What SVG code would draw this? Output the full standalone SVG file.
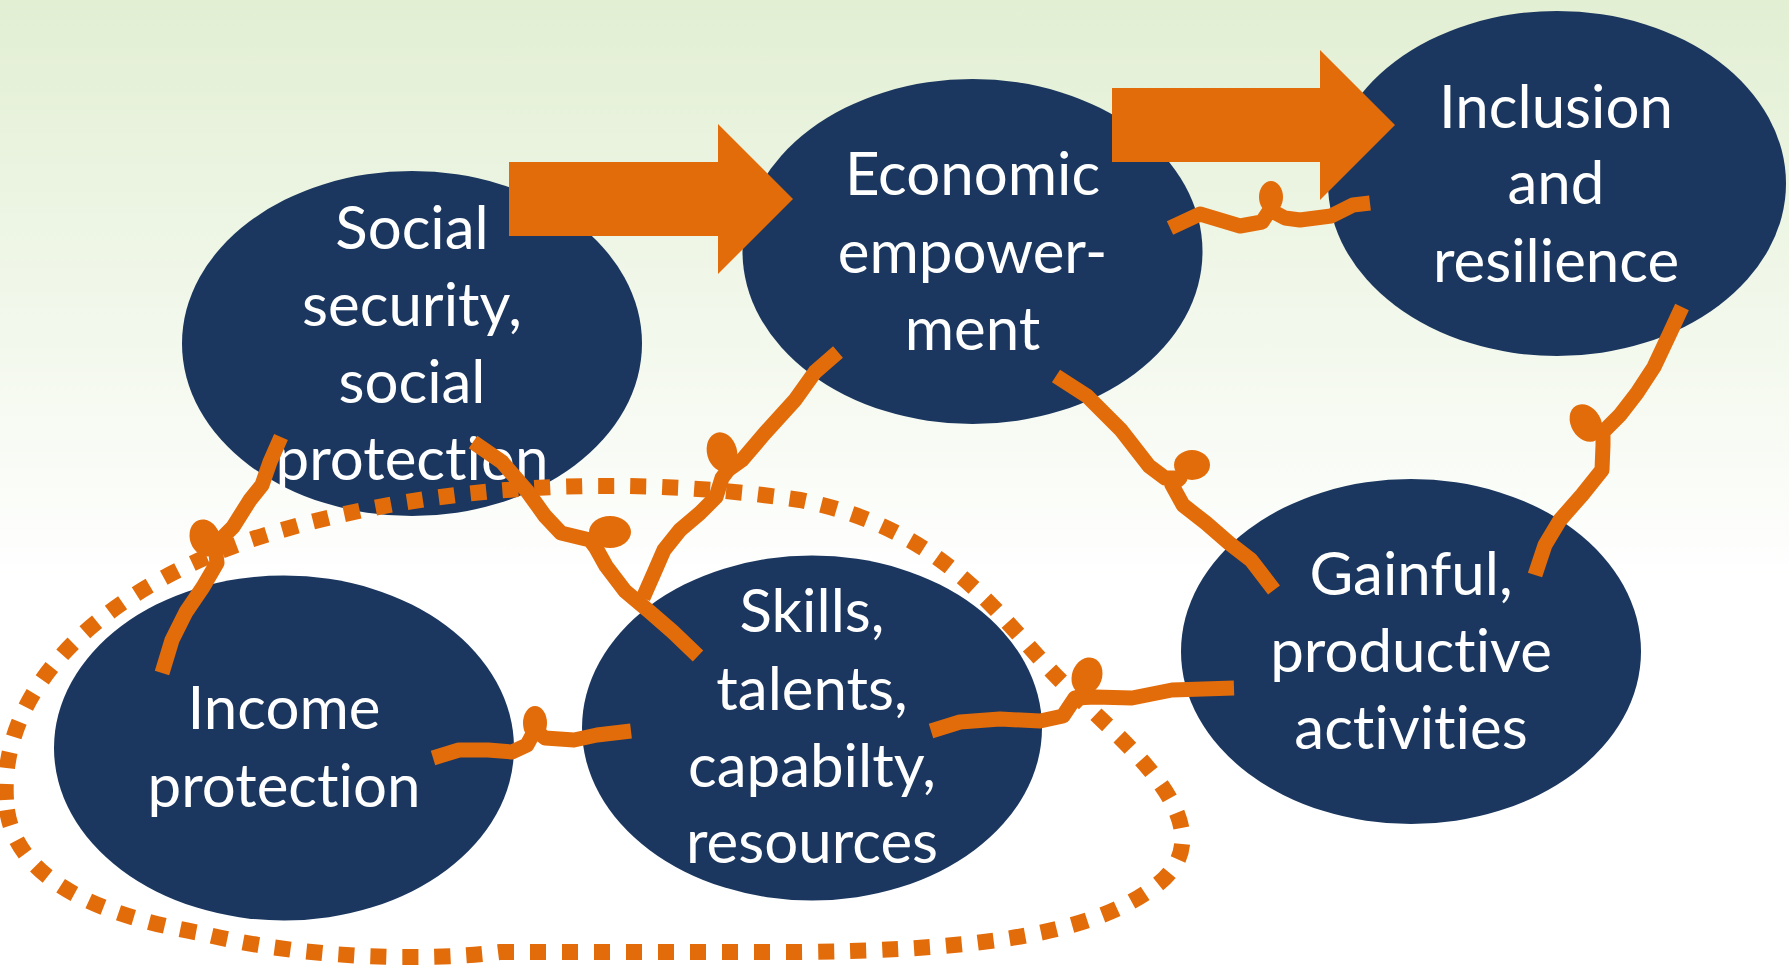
<svg xmlns="http://www.w3.org/2000/svg" width="1789" height="969" viewBox="0 0 1789 969">
<defs>
<linearGradient id="bg" x1="0" y1="0" x2="0" y2="1">
<stop offset="0" stop-color="#e2efd3"/>
<stop offset="0.6" stop-color="#ffffff"/>
<stop offset="1" stop-color="#ffffff"/>
</linearGradient>
<style>
.node{fill:#1b375f}
.lbl{fill:#ffffff;font-family:Lato,"Open Sans","Liberation Sans",sans-serif;font-size:60px;text-anchor:middle;font-variant-ligatures:none;font-feature-settings:"liga" 0,"clig" 0}
.rope{fill:none;stroke:#e36c0a;stroke-width:15;stroke-linejoin:round;stroke-linecap:butt}
.knot{fill:#e36c0a}
.big{fill:#e36c0a}
.loop{fill:none;stroke:#e36c0a;stroke-width:16;stroke-dasharray:16 16}
</style>
</defs>
<rect x="0" y="0" width="1789" height="969" fill="url(#bg)"/>

<g id="social">
<ellipse class="node" cx="412" cy="343.5" rx="230" ry="172.5"/>
<text class="lbl" x="412" y="249">Social</text>
<text class="lbl" x="412" y="326">security,</text>
<text class="lbl" x="412" y="403">social</text>
<text class="lbl" x="412" y="480">protection</text>
</g>
<g id="economic">
<ellipse class="node" cx="972.5" cy="251.5" rx="230" ry="172.5"/>
<text class="lbl" x="972.5" y="195">Economic</text>
<text class="lbl" x="972.5" y="273">empower-</text>
<text class="lbl" x="972.5" y="350">ment</text>
</g>
<g id="inclusion">
<ellipse class="node" cx="1557" cy="183.5" rx="229" ry="172.5"/>
<text class="lbl" x="1556" y="128">Inclusion</text>
<text class="lbl" x="1556" y="204">and</text>
<text class="lbl" x="1556" y="282">resilience</text>
</g>
<g id="income">
<ellipse class="node" cx="284" cy="748" rx="230" ry="172.5"/>
<text class="lbl" x="284" y="729">Income</text>
<text class="lbl" x="284" y="807">protection</text>
</g>
<g id="skills">
<ellipse class="node" cx="812" cy="728" rx="230" ry="172.5"/>
<text class="lbl" x="812" y="632">Skills,</text>
<text class="lbl" x="812" y="710">talents,</text>
<text class="lbl" x="812" y="787">capabilty,</text>
<text class="lbl" x="812" y="863">resources</text>
</g>
<g id="gainful">
<ellipse class="node" cx="1411" cy="651.5" rx="230" ry="172.5"/>
<text class="lbl" x="1411" y="595">Gainful,</text>
<text class="lbl" x="1411" y="672">productive</text>
<text class="lbl" x="1411" y="749">activities</text>
</g>

<g id="connectors">
<polygon class="big" points="509,162 718,162 718,124 793,199 718,274 718,236 509,236"/>
<polygon class="big" points="1112,88 1320,88 1320,50 1395,125 1320,200 1320,162 1112,162"/>

<path class="loop" d="M6,800 C0,700 80,600 250,540 C400,490 600,470 800,500 C950,530 1000,620 1060,680 C1120,740 1240,830 1150,890 C1080,940 950,950 800,952 L500,952 C420,962 300,958 200,933 C100,915 10,880 6,800 Z"/>

<path class="rope" d="M281,437 L270,462 L262,485 L250,500 L233,527 L215,545 L217,563 L203,587 L186,612 L172,640 L162,673"/>
<ellipse class="knot" cx="205" cy="538" rx="15" ry="19" transform="rotate(-20 205 538)"/>

<path class="rope" d="M473,442 L502,462 L527,491 L545,516 L561,533 L590,540 L596,548 L606,566 L625,591 L650,612 L673,632 L698,656"/>
<ellipse class="knot" cx="610" cy="532" rx="21" ry="16"/>

<path class="rope" d="M838,352 L815,372 L795,400 L765,433 L742,460 L728,470 L722,478 L716,497 L700,513 L680,530 L664,550 L654,573 L643,598"/>
<ellipse class="knot" cx="722" cy="452" rx="15" ry="20" transform="rotate(-15 722 452)"/>

<path class="rope" d="M433,758 L459,750 L488,750 L512,752 L527,745 L535,730 L545,738 L574,740 L597,735 L631,731"/>
<ellipse class="knot" cx="535" cy="723" rx="12" ry="17"/>

<path class="rope" d="M931,731 L960,722 L1000,719 L1040,721 L1063,716 L1075,698 L1095,697 L1132,698 L1172,690 L1234,688"/>
<ellipse class="knot" cx="1087" cy="676" rx="15" ry="19" transform="rotate(20 1087 676)"/>

<path class="rope" d="M1170,228 L1200,214 L1240,226 L1262,222 L1270,210 L1285,218 L1300,220 L1331,216 L1353,205 L1370,203"/>
<ellipse class="knot" cx="1271" cy="197" rx="12" ry="16"/>

<path class="rope" d="M1056,376 L1087,396 L1121,430 L1149,466 L1165,478 L1180,478 L1172,485 L1183,505 L1206,523 L1229,543 L1251,560 L1274,590"/>
<ellipse class="knot" cx="1192" cy="465" rx="18" ry="15"/>

<path class="rope" d="M1682,307 L1670,333 L1654,367 L1637,393 L1620,415 L1603,432 L1603,445 L1602,470 L1582,495 L1560,520 L1545,545 L1535,575"/>
<ellipse class="knot" cx="1586" cy="423" rx="15" ry="20" transform="rotate(-30 1586 423)"/>
</g>
</svg>
